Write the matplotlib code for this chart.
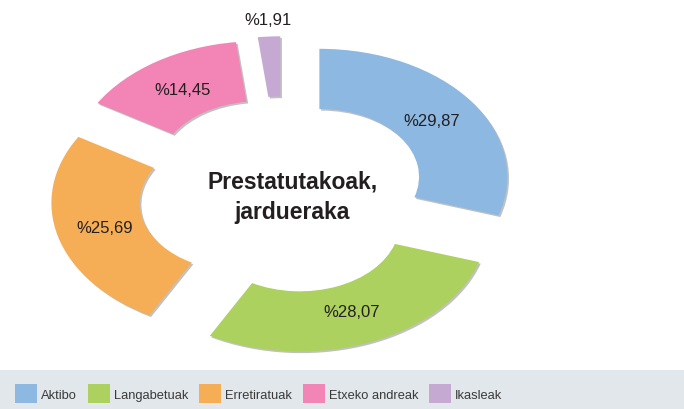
import matplotlib
matplotlib.use('Agg')
import matplotlib.pyplot as plt
import matplotlib.patheffects as pe
from matplotlib.patches import Patch, Rectangle
import numpy as np

kategoriak = ['Aktibo', 'Langabetuak', 'Erretiratuak', 'Etxeko andreak', 'Ikasleak']
ehunekoak = [29.87, 28.07, 25.69, 14.45, 1.91]
koloreak = ['#8cb8e2', '#acd15e', '#f6ae56', '#f284b6', '#c5a9d3']
izenburua = 'Prestatutakoak,\njardueraka'

plt.rcParams['font.family'] = ['Liberation Sans', 'DejaVu Sans']

fig = plt.figure(figsize=(6.84, 4.10), dpi=100)
ax = fig.add_axes([0, 0, 1, 1])

wedges, _ = ax.pie(ehunekoak, colors=koloreak, startangle=90, counterclock=False,
                   explode=[0.24] * len(ehunekoak),
                   wedgeprops=dict(width=0.47, linewidth=0))
itzala = [pe.SimplePatchShadow(offset=(1.2, -1.2), shadow_rgbFace='#777777', alpha=0.45), pe.Normal()]
for w in wedges:
    w.set_path_effects(itzala)

# elipse itxura: ardatzak ez dira berdinak
ax.set_aspect('auto')
ax.set_xlim(-1.505, 2.133)
ax.set_ylim(-1.672, 1.531)
ax.axis('off')

# ehunekoen etiketak
for w, v in zip(wedges, ehunekoak):
    erdia = np.deg2rad((w.theta1 + w.theta2) / 2)
    r = 0.74 if v > 5 else 1.13
    cx, cy = w.center
    ax.text(cx + r * np.cos(erdia), cy + r * np.sin(erdia),
            '%' + f'{v:.2f}'.replace('.', ','), ha='center', va='center',
            fontsize=12, color='#231f20')

ax.text(0.05, -0.01, izenburua, ha='center', va='center', fontsize=16.5, fontweight='bold',
        color='#231f20', linespacing=1.45)

# legenda behean, banda grisaren gainean
fig.add_artist(Rectangle((0, 0), 1, 39 / 410, transform=fig.transFigure,
                         facecolor='#e1e7ea', edgecolor='none', zorder=0))
handles = [Patch(facecolor=c, edgecolor='none') for c in koloreak]
fig.legend(handles, kategoriak, ncol=5, loc='center left',
           bbox_to_anchor=(15 / 684, 15.5 / 410), frameon=False, fontsize=9.3,
           labelcolor='#3a3a3a', handlelength=1.7, handleheight=1.78,
           handletextpad=0.31, columnspacing=0.85, borderpad=0, borderaxespad=0)

fig.savefig('out.png', dpi=100)
